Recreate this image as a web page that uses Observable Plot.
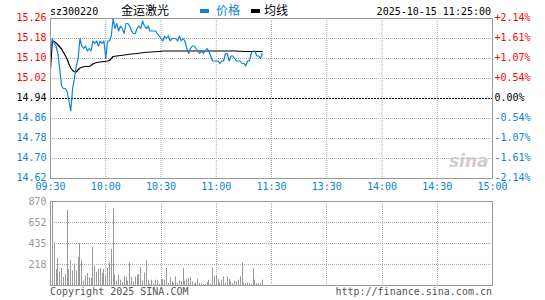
<!DOCTYPE html>
<html><head><meta charset="utf-8">
<script src="https://cdn.jsdelivr.net/npm/d3@7"></script>
<script src="https://cdn.jsdelivr.net/npm/@observablehq/plot@0.6"></script>
<style>
body{margin:0;background:#fff;}
#wrap{position:relative;width:545px;height:300px;overflow:hidden;font-family:"DejaVu Sans Mono",monospace;font-size:10px;line-height:10px;}
.t{position:absolute;white-space:nowrap;line-height:10px;}
.cjk{font-family:"Noto Sans CJK SC",sans-serif;font-size:12px;line-height:12px;}
.abs{position:absolute;left:0;}
</style></head><body><div id="wrap"></div>
<script>
const stockCode = "sz300220";
const stockName = "金运激光";
const legendPrice = "价格";
const legendAvg = "均线";
const stamp = "2025-10-15 11:25:00";
const copyright = "Copyright 2025 SINA.COM";
const siteUrl = "http://finance.sina.com.cn";

const preClose = 14.94;
const priceTicks = [15.26, 15.18, 15.10, 15.02, 14.94, 14.86, 14.78, 14.70, 14.62];
const pctLabels = ["+2.14%", "+1.61%", "+1.07%", "+0.54%", "0.00%", "-0.54%", "-1.07%", "-1.61%", "-2.14%"];
const timeTicks = [0, 30, 60, 90, 120, 150, 180, 210, 240];
const timeLabels = ["09:30", "10:00", "10:30", "11:00", "11:30", "13:30", "14:00", "14:30", "15:00"];
const volTicks = [870, 652, 435, 218];

// one value per minute from 09:30 to 11:25
const price = [
 15.12, 15.18, 15.16, 15.15, 15.12, 15.06, 14.99, 14.98, 14.98, 14.97,
 14.93, 14.89, 14.98, 15.02, 15.07, 15.10, 15.18, 15.15, 15.14, 15.15,
 15.13, 15.14, 15.13, 15.17, 15.16, 15.17, 15.15, 15.17, 15.16, 15.17,
 15.10, 15.17, 15.17, 15.19, 15.26, 15.22, 15.24, 15.21, 15.23, 15.22,
 15.20, 15.24, 15.24, 15.23, 15.21, 15.20, 15.20, 15.22, 15.23, 15.22,
 15.25, 15.23, 15.22, 15.23, 15.21, 15.21, 15.21, 15.21, 15.20, 15.19,
 15.18, 15.17, 15.19, 15.18, 15.19, 15.17, 15.18, 15.18, 15.18, 15.17,
 15.19, 15.17, 15.18, 15.17, 15.14, 15.12, 15.14, 15.15, 15.15, 15.14,
 15.13, 15.12, 15.13, 15.12, 15.13, 15.14, 15.13, 15.11, 15.09, 15.09,
 15.09, 15.09, 15.08, 15.09, 15.09, 15.12, 15.12, 15.09, 15.11, 15.11,
 15.10, 15.09, 15.09, 15.09, 15.08, 15.08, 15.07, 15.09, 15.09, 15.12,
 15.13, 15.13, 15.11, 15.11, 15.10, 15.12
];
const avgPrice = [
 15.06, 15.17, 15.168, 15.162, 15.155, 15.147, 15.138, 15.125, 15.112, 15.098,
 15.078, 15.062, 15.052, 15.047, 15.046, 15.055, 15.062, 15.065, 15.067, 15.068,
 15.068, 15.068, 15.072, 15.078, 15.081, 15.084, 15.085, 15.086, 15.087, 15.088,
 15.089, 15.09, 15.092, 15.10, 15.108, 15.109, 15.11, 15.111, 15.112, 15.113,
 15.114, 15.115, 15.116, 15.117, 15.118, 15.119, 15.119, 15.12, 15.121, 15.122,
 15.123, 15.124, 15.125, 15.125, 15.126, 15.126, 15.127, 15.127, 15.128, 15.128,
 15.129, 15.13, 15.13, 15.13, 15.13, 15.13, 15.13, 15.13, 15.13, 15.13,
 15.13, 15.13, 15.13, 15.13, 15.13, 15.13, 15.13, 15.13, 15.13, 15.13,
 15.13, 15.13, 15.13, 15.13, 15.13, 15.13, 15.13, 15.13, 15.13, 15.13,
 15.13, 15.13, 15.13, 15.13, 15.13, 15.13, 15.13, 15.13, 15.13, 15.13,
 15.13, 15.13, 15.129, 15.129, 15.129, 15.128, 15.128, 15.128, 15.128, 15.128,
 15.128, 15.128, 15.128, 15.128, 15.128, 15.128
];
const volume = [
 870, 870, 445, 166, 280, 135, 176, 83, 114, 780, 166,
 262, 151, 221, 151, 290, 435, 262, 45, 100, 124,
 83, 72, 393, 200, 135, 166, 176, 124, 166, 96,
 176, 234, 373, 797, 107, 45, 107, 55, 30, 89,
 83, 45, 234, 83, 38, 89, 107, 114, 186, 48,
 130, 262, 55, 10, 55, 17, 55, 48, 10, 55,
 62, 55, 176, 24, 79, 38, 24, 89, 17, 48,
 38, 176, 45, 62, 72, 83, 38, 17, 24, 65,
 17, 17, 10, 10, 31, 55, 17, 183, 96, 103,
 62, 24, 55, 89, 24, 89, 62, 38, 17, 45,
 38, 55, 89, 234, 24, 17, 24, 17, 10, 176,
 55, 17, 17, 17, 55
];

const BLUE = "#0b84d4", RED = "#ff0000", GRID = "#aaa", BORDER = "#999";
const tickColor = v => v > preClose ? RED : v < preClose ? BLUE : "#000";

const wrap = document.getElementById("wrap");
function addText(txt, left, top, cls, color) {
  const d = document.createElement("div");
  d.className = "t " + (cls || "");
  d.textContent = txt;
  d.style.left = left + "px";
  d.style.top = top + "px";
  if (color) d.style.color = color;
  wrap.appendChild(d);
  return d;
}
function addSwatch(left, top, color) {
  const d = document.createElement("div");
  d.style.cssText = `position:absolute;left:${left}px;top:${top}px;width:9px;height:4px;background:${color}`;
  wrap.appendChild(d);
}

const pd = price.map((p, i) => ({i, p, a: avgPrice[i]}));
const vd = volume.map((v, i) => ({i, v}));
const dotted = {stroke: GRID, strokeDasharray: "1,1"};

const topPlot = Plot.plot({
  width: 545, height: 195,
  marginTop: 18, marginBottom: 17, marginLeft: 50, marginRight: 53,
  x: {domain: [0, 240], axis: null},
  y: {domain: [14.62, 15.26], axis: null},
  color: {type: "identity"},
  style: {fontFamily: "DejaVu Sans Mono", fontSize: "10px", background: "transparent", overflow: "visible"},
  marks: [
    Plot.ruleY(priceTicks.filter(v => v !== preClose), dotted),
    Plot.ruleX(timeTicks.slice(1, -1), dotted),
    Plot.ruleY([preClose], {stroke: "#000", strokeDasharray: "2,1"}),
    Plot.text(["sina"], {frameAnchor: "bottom-right", dx: -4, dy: -12, text: d => d, fontSize: 17, fontStyle: "italic", fontWeight: "bold", fontFamily: "DejaVu Sans", fill: "#d4cccc"}),
    Plot.line(pd, {x: "i", y: "a", stroke: "#000", strokeWidth: 1.2}),
    Plot.line(pd, {x: "i", y: "p", stroke: BLUE, strokeWidth: 1.2}),
    Plot.frame({stroke: BORDER}),
    Plot.text(priceTicks, {x: 0, y: d => d, text: d => d.toFixed(2), textAnchor: "end", dx: -4, dy: -1, fill: d => tickColor(d)}),
    Plot.text(priceTicks, {x: 240, y: d => d, text: (d, i) => pctLabels[i], textAnchor: "start", dx: 2, dy: -1, fill: d => tickColor(d)}),
    Plot.text(timeTicks, {x: d => d, frameAnchor: "bottom", dy: 11, text: (d, i) => timeLabels[i], fill: BLUE})
  ]
});
topPlot.classList.add("abs");
topPlot.style.top = "0px";
wrap.appendChild(topPlot);

const volPlot = Plot.plot({
  width: 545, height: 105,
  marginTop: 6, marginBottom: 15, marginLeft: 50, marginRight: 53,
  x: {domain: [0, 240], axis: null, round: true},
  y: {domain: [0, 870], axis: null},
  style: {fontFamily: "DejaVu Sans Mono", fontSize: "10px", background: "transparent", overflow: "visible"},
  marks: [
    Plot.ruleY(volTicks.slice(1), dotted),
    Plot.ruleX(timeTicks.slice(1, -1), dotted),
    Plot.ruleX(vd, {x: "i", y1: 0, y2: "v", stroke: BORDER}),
    Plot.frame({stroke: BORDER}),
    Plot.text(volTicks, {x: 0, y: d => d, text: d => String(d), textAnchor: "end", dx: -4, fill: BORDER})
  ]
});
volPlot.classList.add("abs");
volPlot.style.top = "195px";
wrap.appendChild(volPlot);

addText(stockCode, 50, 7, "", "#000");
addText(stockName, 121, 4, "cjk", "#000");
addSwatch(200, 9, BLUE);
addText(legendPrice, 216, 4, "cjk", BLUE);
addSwatch(251, 9, "#000");
addText(legendAvg, 264, 4, "cjk", "#000");
const st = addText(stamp, 0, 7, "", "#000");
st.style.left = ""; st.style.right = (545 - 491) + "px";
addText(copyright, 50, 287, "", "#555");
const su = addText(siteUrl, 0, 287, "", "#555");
su.style.left = ""; su.style.right = (545 - 492) + "px";
</script></body></html>
